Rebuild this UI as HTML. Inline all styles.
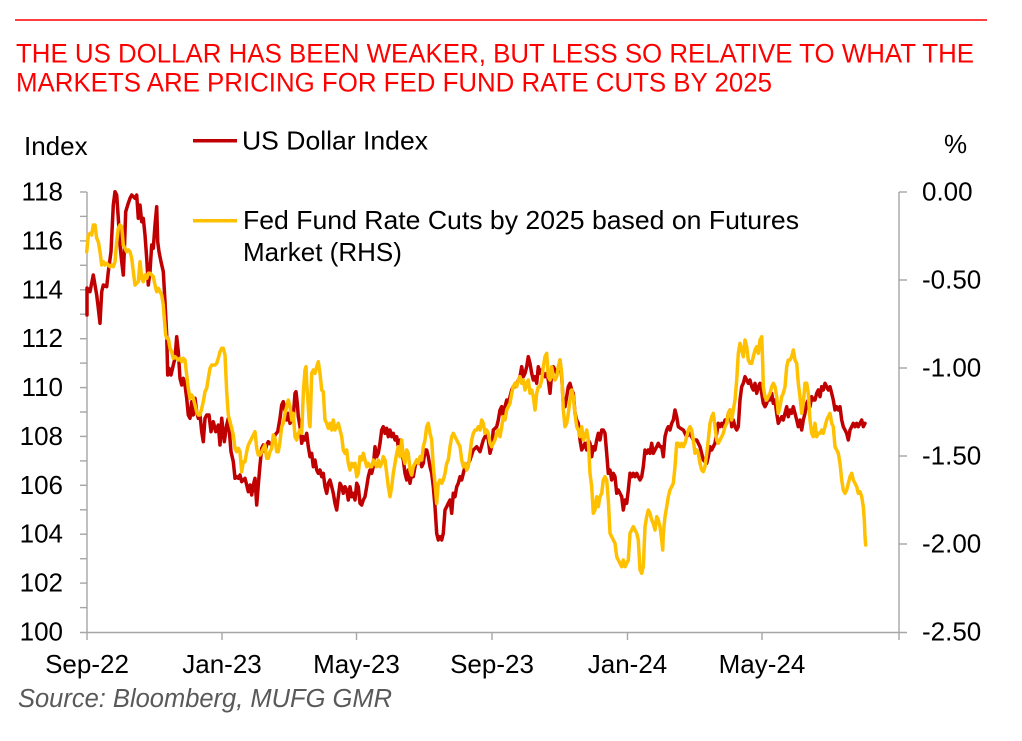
<!DOCTYPE html>
<html><head><meta charset="utf-8"><style>
html,body{margin:0;padding:0;background:#fff;}
svg{display:block;}
text{font-family:"Liberation Sans",Arial,sans-serif;}
</style></head><body>
<svg width="1022" height="741" viewBox="0 0 1022 741" xmlns="http://www.w3.org/2000/svg">
<rect width="1022" height="741" fill="#fff"/>
<line x1="15" y1="20" x2="987" y2="20" stroke="#FF0000" stroke-width="1.5"/>
<text x="16" y="62.5" font-size="27" fill="#FF0000" textLength="958" lengthAdjust="spacingAndGlyphs">THE US DOLLAR HAS BEEN WEAKER, BUT LESS SO RELATIVE TO WHAT THE</text>
<text x="16" y="91.7" font-size="27" fill="#FF0000" textLength="756" lengthAdjust="spacingAndGlyphs">MARKETS ARE PRICING FOR FED FUND RATE CUTS BY 2025</text>

<text x="24" y="155" font-size="26" fill="#000">Index</text>
<text x="944" y="153" font-size="26" fill="#000">%</text>

<!-- axes -->
<g stroke="#A6A6A6" stroke-width="1.4" fill="none">
<line x1="87" y1="192" x2="87" y2="640"/>
<line x1="899" y1="192" x2="899" y2="640"/>
<line x1="80" y1="632.5" x2="907" y2="632.5"/>
<line x1="80" y1="192" x2="87" y2="192"/>
<line x1="80" y1="216.4" x2="87" y2="216.4"/>
<line x1="80" y1="240.9" x2="87" y2="240.9"/>
<line x1="80" y1="265.3" x2="87" y2="265.3"/>
<line x1="80" y1="289.8" x2="87" y2="289.8"/>
<line x1="80" y1="314.2" x2="87" y2="314.2"/>
<line x1="80" y1="338.7" x2="87" y2="338.7"/>
<line x1="80" y1="363.1" x2="87" y2="363.1"/>
<line x1="80" y1="387.6" x2="87" y2="387.6"/>
<line x1="80" y1="412" x2="87" y2="412"/>
<line x1="80" y1="436.4" x2="87" y2="436.4"/>
<line x1="80" y1="460.9" x2="87" y2="460.9"/>
<line x1="80" y1="485.3" x2="87" y2="485.3"/>
<line x1="80" y1="509.8" x2="87" y2="509.8"/>
<line x1="80" y1="534.2" x2="87" y2="534.2"/>
<line x1="80" y1="558.7" x2="87" y2="558.7"/>
<line x1="80" y1="583.1" x2="87" y2="583.1"/>
<line x1="80" y1="607.6" x2="87" y2="607.6"/>
<line x1="899" y1="192" x2="907" y2="192"/>
<line x1="899" y1="280" x2="907" y2="280"/>
<line x1="899" y1="368" x2="907" y2="368"/>
<line x1="899" y1="456" x2="907" y2="456"/>
<line x1="899" y1="544" x2="907" y2="544"/>
<line x1="222" y1="632" x2="222" y2="640"/>
<line x1="356.5" y1="632" x2="356.5" y2="640"/>
<line x1="492" y1="632" x2="492" y2="640"/>
<line x1="627.5" y1="632" x2="627.5" y2="640"/>
<line x1="762" y1="632" x2="762" y2="640"/>
</g>

<!-- left labels -->
<g font-size="26" fill="#000" text-anchor="end">
<text x="63" y="200.5">118</text>
<text x="63" y="249.4">116</text>
<text x="63" y="298.3">114</text>
<text x="63" y="347.2">112</text>
<text x="63" y="396.1">110</text>
<text x="63" y="444.9">108</text>
<text x="63" y="493.8">106</text>
<text x="63" y="542.7">104</text>
<text x="63" y="591.6">102</text>
<text x="63" y="640.5">100</text>
</g>
<!-- right labels -->
<g font-size="26" fill="#000">
<text x="922" y="200.5">0.00</text>
<text x="922" y="288.5">-0.50</text>
<text x="922" y="376.5">-1.00</text>
<text x="922" y="464.5">-1.50</text>
<text x="922" y="552.5">-2.00</text>
<text x="922" y="640.5">-2.50</text>
</g>
<!-- x labels -->
<g font-size="26" fill="#000" text-anchor="middle">
<text x="87" y="673">Sep-22</text>
<text x="222" y="673">Jan-23</text>
<text x="356.5" y="673">May-23</text>
<text x="492" y="673">Sep-23</text>
<text x="627.5" y="673">Jan-24</text>
<text x="762" y="673">May-24</text>
</g>

<text x="18" y="707" font-size="25.5" font-style="italic" fill="#595959" textLength="374" lengthAdjust="spacingAndGlyphs">Source: Bloomberg, MUFG GMR</text>

<!-- legend -->
<line x1="193" y1="140.7" x2="237" y2="140.7" stroke="#C00000" stroke-width="3.5"/>
<text x="242" y="149.3" font-size="26" fill="#000" textLength="186" lengthAdjust="spacingAndGlyphs">US Dollar Index</text>
<line x1="193" y1="220.7" x2="237" y2="220.7" stroke="#FFC000" stroke-width="3.5"/>
<text x="243" y="229" font-size="26" fill="#000" textLength="556" lengthAdjust="spacingAndGlyphs">Fed Fund Rate Cuts by 2025 based on Futures</text>
<text x="243" y="261" font-size="26" fill="#000">Market (RHS)</text>

<!-- red series -->
<polyline fill="none" stroke="#C00000" stroke-width="3.5" stroke-linejoin="round" stroke-linecap="round" points="
87,315 87,288 90,291.7 93.3,275 96.7,295 98.3,308.3 100,323.3 101.7,291.7 103.3,285 106.7,286.7 108.3,271.7 111,251.7 113.3,205 115,191.7 116.7,195 118.3,218.3 120,245 121.7,261.7 123.3,275 124.3,251.7 125.7,211.7 127.7,205 130,198.3 131.7,195 135,198.3 136.7,195 138.3,218.3 140,205 141.7,221.7 143.3,218.3 145,235 146.7,258.3 148.3,285 150,271.7 151.7,245 153.3,248.3 155,225 156.7,206.7 157.7,241.7 159,251.7 161,261.7 163.3,271.7 165,301.7 166.7,335 167.7,375 169,368.3 171,375 173.3,365 175,358.3 176.7,336.7 178.3,351.7 180,378.3 181.7,385 183.3,378.3 185,385 186.7,398.3 188.3,415 190,418.3 191.7,401.7 193.3,415 195,398.3 196.7,411.7 198.3,418.3 200,415 201.7,431.7 203.3,441.7 205,418.3 206.7,415 209,415 211,431.7 213.3,421.7 215.7,431.7 218.3,425 220,445 221.7,418.3 224.3,441.7 226.7,425 228.3,418.3 231,451.7 233.3,461.7 235,478.3 236.7,476.7 238.3,478.3 240,475 241.7,481.7 245,478.3 246.7,485 248.3,491.7 250,485 251.7,495 253.3,485 255,478.3 256.7,505 258.3,485 260,465 261.7,448.3 263.3,445 265,451.7 266.7,445 268.3,441.7 271.7,445 275,435 277.7,431.7 280,418.3 281.7,405 283.3,401.7 285,410 286.7,420 288.3,413.3 290,423.3 291.7,420 293.3,416.7 295,393.3 296,391.7 297.3,403.3 298.3,416.7 300,426.7 301.7,443.3 303.3,436.7 305,440 306.7,433.3 308.3,446.7 310,456.7 311.7,453.3 313.3,466.7 315,460 316.7,470 318.3,473.3 320,470 321.7,476.7 323.3,473.3 325,486.7 326.7,493.3 328.3,483.3 330,480 331.7,486.7 333.3,493.3 335,503.3 336.7,510 338.3,496.7 340,483.3 341.7,486.7 343.3,493.3 345,486.7 346.7,490 348.3,500 350,486.7 351.7,496.7 353.3,493.3 355,500 356.7,483.3 358.3,486.7 360,503.3 361.7,505 363.3,500 365,496.7 366.7,486.7 368.3,476.7 370,470 371.7,473.3 373.3,466.7 375,446.7 376.7,456.7 378.3,453.3 380,443.3 381.7,430 383.3,426.7 385,433.3 386.7,428.3 388.3,436.7 390,430 391.7,436.7 393.3,433.3 395,440 396.7,436.7 398.3,446.7 400,440 401.7,453.3 403.3,460 405,473.3 406.7,480 408.3,470 410,483.3 411.7,473.3 413.3,476.7 415,466.7 416.7,460 418.3,463.3 420,458.3 421.7,466.7 423.3,463.3 425,450 426.7,450 428.3,456.7 430,466.7 431.7,473.3 433.3,486.7 435,506.7 436.7,533.3 438.3,540 440,536.7 441.7,540 443.3,533.3 445,510 446.7,506.7 448.3,503.3 450,500 451.7,513.3 453.3,493.3 455,496.7 456.7,486.7 458.3,483.3 460,476.7 461.7,480 463.3,473.3 465,466.7 466.7,466.7 468.3,463.3 470,460 473.3,450 476.7,446.7 480,451.7 483.3,440 485,436.7 486.7,433.3 488.3,440 490,453.3 491.7,446.7 493.3,430 496.7,426.7 498.3,420 500,410 501.7,406.7 503.3,416.7 505,406.7 506.7,400 508.3,403.3 510,396.7 511.7,390 513.3,386.7 515,386.7 516.7,383.3 518.3,380 520,376.7 521.7,366.7 523.3,376.7 525,373.3 526.7,366.7 528.3,356.7 530,363.3 531.7,373.3 533.3,380 535,376.7 536.7,383.3 538.3,366.7 540,373.3 541.7,370 543.3,373.3 545,376.7 546.7,373.3 548.3,380 550,393.3 551.7,373.3 553.3,366.7 555,370 556.7,373.3 558.3,370 560,360 561.7,376.7 563.3,403.3 565,406.7 566.7,396.7 568.3,386.7 570,383.3 571.7,390 573.3,393.3 575,413.3 576.7,420 578.3,423.3 580,440 581.7,450 583.3,446.7 585,443.3 586.7,450 588.3,440 590,443.3 591.7,456.7 593.3,446.7 595,450 596.7,440 598.3,433.3 600,440 601.7,430 603.3,430 605,433.3 606.7,453.3 608.3,473.3 610,470 611.7,480 613.3,473.3 615,476.7 616.7,493.3 618.3,490 620,493.3 621.7,496.7 623.3,510 625,500 626.7,503.3 628.3,490 630,473.3 631.7,476.7 633.3,473.3 635,476.7 636.7,473.3 638.3,476.7 640,480 641.7,476.7 643.3,466.7 645,450 646.7,453.3 648.3,450 650,453.3 651.7,443.3 653.3,453.3 655,450 656.7,446.7 658.3,443.3 660,446.7 661.7,446.7 663.3,456.7 665,436.7 666.7,430 668.3,426.7 670,430 671.7,423.3 673.3,420 675,410 676.7,416.7 678.3,426.7 680,428 683.3,430 686.7,436.7 690,433.3 693.3,440 696.7,440 700,446.7 703.3,460 706.7,463.3 708.3,456.7 710,446.7 711.7,450 713.3,446.7 715,443.3 716.7,433.3 718.3,423.3 720,426.7 721.7,423.3 723.3,426.7 725,420 726.7,423.3 728.3,413.3 730,410 731.7,426.7 733.3,420 735,426.7 736.7,430 738.3,426.7 740,400 741.7,386.7 743.3,383.3 745,376.7 746.7,380 748.3,383.3 750,380 751.7,386.7 753.3,390 755,383.3 756.7,393.3 758.3,386.7 760,383.3 761.7,393.3 763.3,403.3 765,406.7 766.7,403.3 768.3,396.7 770,400 771.7,393.3 773.3,403.3 775,400 776.7,413.3 778.3,423.3 780,420 781.7,416.7 783.3,420 785,413.3 786.7,406.7 788.3,416.7 790,410 791.7,413.3 793.3,406.7 795,413.3 796.7,420 798.3,426.7 800,420 801.7,430 803.3,420 805,413.3 806.7,403.3 808.3,400 810,406.7 811.7,396.7 813.3,400 815,400 816.7,393.3 818.3,390 820,396.7 821.7,386.7 823.3,390 825,383.3 826.7,386.7 828.3,390 830,386.7 831.7,393.3 833.3,400 835,410 836.7,406.7 838.3,410 840,406.7 841.7,420 843.3,426.7 845,430 846.7,433.3 848.3,440 850,430 851.7,426.7 853.3,423.3 855,426.7 856.7,423.3 858.3,426.7 860,423.3 861.7,420 863.3,426.7 865,423.3"/>

<!-- orange series -->
<polyline fill="none" stroke="#FFC000" stroke-width="3.5" stroke-linejoin="round" stroke-linecap="round" points="
86.7,251.7 88.3,235 90,233.3 91.7,235 93.3,225 95,225 96.7,238.3 98.3,241.7 100,251.7 101.7,265 103.3,261.7 105,265 106.7,263.3 108.3,265 110,266.7 111.7,265 113.3,266.7 115,261.7 116.7,241.7 118.3,228.3 120,225 121.7,226.7 123.3,245 125,248.3 126.7,251.7 128.3,250 130,251.7 131.7,258.3 133.3,271.7 135,285 136.7,283.3 138.3,281.7 140,261.7 141.7,278.3 143.3,281.7 145,275 146.7,278.3 148.3,273.3 150,273.3 151.7,275 153.3,276.7 155,285 156.7,291.7 158.3,288.3 160,291.7 161.7,295 163.3,305 164.3,318.3 165.7,335 166.7,338.3 168.3,338.3 170,348.3 171.7,351.7 173.3,358.3 175,356.7 176.7,358.3 178.3,360 180,358.3 181.7,361.7 183.3,358.3 185,360 186.7,375 188.3,388.3 190,398.3 191.7,395 193.3,398.3 195,405 196.7,411.7 198.3,415 200,415 201.7,408.3 203.3,401.7 205,391.7 206.7,388.3 208.3,378.3 210,368.3 211.7,365 213.3,365 215,365 216.7,363.3 218.3,358.3 220,351.7 221.7,348.3 223.3,348.3 225,355 226.7,391.7 228.3,415 230,421.7 231.7,428.3 233.3,435 235,448.3 236.7,451.7 238.3,448.3 240,451.7 241.7,471.7 243.3,461.7 245,461.7 246.7,451.7 248.3,445 250,441.7 251.7,438.3 253.3,435 255,431.7 256.7,448.3 258.3,455 260,455 261.7,451.7 263.3,448.3 265,445 266.7,458.3 268.3,458.3 270,451.7 271.7,448.3 273.3,435 275,438.3 276.7,451.7 278.3,451.7 280,441.7 281.7,426.7 283.3,423.3 285,413.3 286.7,406.7 288.3,400 290,406.7 291.7,420 293.3,413.3 295,436.7 296.7,440 298.3,433.3 300,430 301.7,433.3 303.3,393.3 304,383.3 305,370 306,366.7 306.7,383.3 308.3,406.7 309.3,423.3 310,426.7 310.7,406.7 311.7,373.3 313.3,370 315,373.3 316.7,366.7 318.3,361.7 320,373.3 321.7,390 323.3,391.7 325,420 326.7,423.3 328.3,428.3 330,423.3 331.7,430 333.3,420 335,430 336.7,426.7 338.3,423.3 340,430 341.7,436.7 343.3,450 345,453.3 346.7,450 348.3,463.3 350,470 351.7,463.3 353.3,466.7 355,463.3 356.7,476.7 358.3,473.3 360,456.7 361.7,460 363.3,453.3 365,460 366.7,466.7 368.3,463.3 370,466.7 371.7,466.7 373.3,460 375,463.3 376.7,466.7 378.3,460 380,466.7 381.7,463.3 383.3,456.7 385,460 386.7,473.3 388.3,486.7 390,496.7 391.7,486.7 393.3,473.3 395,463.3 396.7,453.3 398.3,446.7 400,456.7 401.7,440 403.3,456.7 405,463.3 406.7,450 408.3,453.3 410,470 411.7,475 413.3,466.7 415,463.3 416.7,460 418.3,463.3 420,456.7 421.7,460 423.3,446.7 425,440 426.7,426.7 428.3,423.3 430,433.3 431.7,440 433.3,466.7 435,483.3 436.7,503.3 438.3,483.3 440,480 441.7,483.3 443.3,480 445,473.3 446.7,463.3 448.3,460 450,446.7 451.7,436.7 453.3,433.3 455,436.7 456.7,440 458.3,443.3 460,446.7 461.7,460 463.3,466.7 465,463.3 466.7,470 468.3,466.7 470,453.3 471.7,440 473.3,433.3 475,430 476.7,430 478.3,426.7 480,430 481.7,420 483.3,423.3 485,433.3 486.7,430 488.3,433.3 490,443.3 491.7,446.7 493.3,443.3 495,440 496.7,433.3 498.3,430 500,436.7 501.7,426.7 503.3,416.7 505,420 506.7,410 508.3,406.7 510,403.3 511.7,393.3 513.3,386.7 515,383.3 516.7,386.7 518.3,380 520,376.7 521.7,383.3 523.3,380 525,390 526.7,383.3 528.3,380 530,393.3 531.7,390 533.3,396.7 535,410 536.7,393.3 538.3,386.7 540,386.7 541.7,380 543.3,366.7 545,356.7 546.7,353.3 548.3,376.7 550,380 551.7,366.7 553.3,376.7 555,380 556.7,376.7 558.3,366.7 560,360 561.7,373.3 563.3,410 565,426.7 566.7,423.3 568.3,413.3 570,400 571.7,390 573.3,396.7 575,413.3 576.7,426.7 578.3,430 580,436.7 581.7,426.7 583.3,440 585,436.7 586.7,430 588.3,440 590,473.3 591.7,486.7 593.3,513.3 595,510 596.7,496.7 598.3,506.7 600,496.7 601.7,493.3 603.3,480 605,476.7 606.7,480 608.3,500 610,533.3 611.7,536.7 613.3,540 615,543.3 616.7,556.7 618.3,560 620,563.3 621.7,566.7 623.3,560 625,566.7 626.7,563.3 628.3,560 630,533.3 631.7,530 633.3,526.7 635,530 636.7,533.3 638.3,540 640,570 641.7,573.3 643.3,566.7 645,526.7 646.7,516.7 648.3,510 650,513.3 651.7,520 653.3,523.3 655,530 656.7,516.7 658.3,520 660,526.7 661.7,540 662.7,550 663.3,533.3 665,516.7 666.7,506.7 668.3,496.7 670,490 671.7,486.7 673.3,483.3 675,466.7 676.7,443.3 678.3,443.3 680,446.7 681.7,443.3 683.3,446.7 685,443.3 686.7,436.7 688.3,430 690,426.7 691.7,430 693.3,440 695,453.3 696.7,450 698.3,453.3 700,463.3 701.7,470 703.3,471.7 705,466.7 706.7,453.3 708.3,440 710,423.3 711.7,416.7 713.3,413.3 715,426.7 716.7,440 718.3,443.3 720,440 721.7,436.7 723.3,433.3 725,426.7 726.7,423.3 728.3,413.3 730,410 731.7,420 733.3,410 735,400 736.7,380 738.3,353.3 740,343.3 741.7,350 743.3,356.7 745,340 746.7,346.7 748.3,360 750,363.3 751.7,363.3 753.3,356.7 755,350 756.7,346.7 758.3,353.3 760,340 761.7,336.7 762.7,363.3 763.3,386.7 765,396.7 766.7,400 768.3,396.7 770,393.3 771.7,386.7 773.3,383.3 775,386.7 776.7,396.7 778.3,413.3 780,406.7 781.7,396.7 783.3,393.3 785,386.7 786.7,366.7 788.3,360 790,360 791.7,356.7 793.3,350 795,360 796.7,363.3 798.3,383.3 800,396.7 801.7,413.3 803.3,403.3 805,383.3 806.7,383.3 808.3,393.3 810,420 811.7,433.3 813.3,436.7 815,423.3 816.7,436.7 818.3,433.3 820,433.3 821.7,430 823.3,433.3 825,426.7 826.7,420 828.3,416.7 830,413.3 831.7,423.3 833.3,426.7 835,446.7 836.7,450 838.3,453.3 840,463.3 841.7,480 843.3,490 845,493.3 846.7,490 848.3,483.3 850,476.7 851.7,473.3 853.3,480 855,483.3 856.7,486.7 858.3,493.3 860,491.7 861.7,496.7 863.3,506.7 864.3,520 865,536.7 865.7,545"/>
</svg>
</body></html>
